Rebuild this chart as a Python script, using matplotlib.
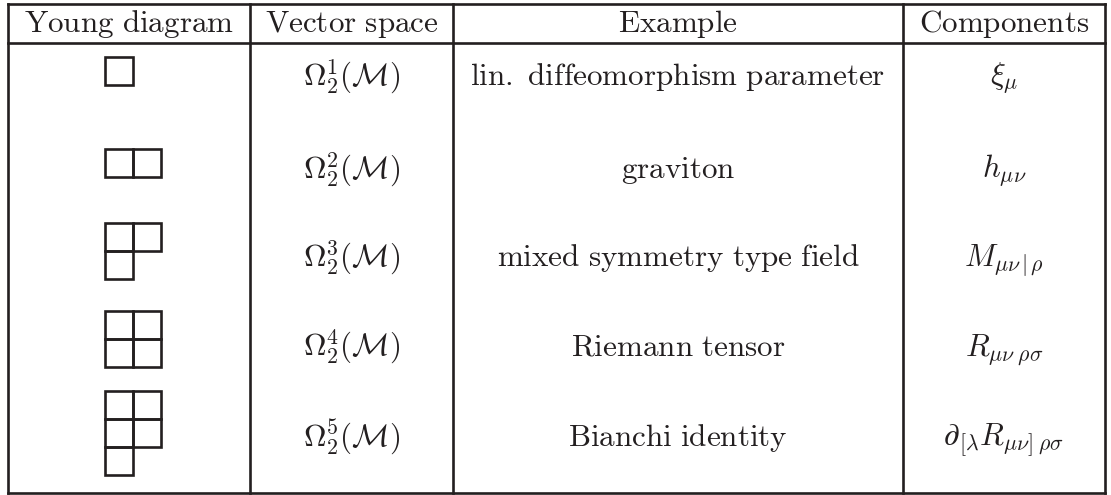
import matplotlib
matplotlib.use('Agg')
import matplotlib.pyplot as plt
from matplotlib.patches import Rectangle

plt.rcParams['mathtext.fontset'] = 'cm'

headers = ['Young diagram', 'Vector space', 'Example', 'Components']
young_rows = [[1], [2], [2, 1], [2, 2], [2, 2, 1]]
vector_spaces = [r'$\Omega_2^{1}(\mathcal{M})$', r'$\Omega_2^{2}(\mathcal{M})$',
                 r'$\Omega_2^{3}(\mathcal{M})$', r'$\Omega_2^{4}(\mathcal{M})$',
                 r'$\Omega_2^{5}(\mathcal{M})$']
examples = ['lin. diffeomorphism parameter', 'graviton', 'mixed symmetry type field',
            'Riemann tensor', 'Bianchi identity']
components = [r'$\xi_\mu$', r'$h_{\mu\nu}$', r'$M_{\mu\nu\,|\,\rho}$',
              r'$R_{\mu\nu\;\rho\sigma}$', r'$\partial_{[\lambda}R_{\mu\nu]\;\rho\sigma}$']

# layout (pixels)
col_edges = [8, 250, 453, 903, 1105]
top, head_line, bottom = 4, 43, 493
head_base = 32
diagram_tops = [57, 149, 223, 311, 391]
text_base = [85, 178, 266, 355, 446]
cell = 28
diag_left = 105
ink = '#231f20'
lw = 1.9
fs = 22.4


def rm(s):
    return r'$\mathrm{' + s.replace(' ', r'\ ') + '}$'


fig = plt.figure(figsize=(11.11, 4.95), dpi=100)
ax = fig.add_axes([0, 0, 1, 1])
ax.set_xlim(0, 1111)
ax.set_ylim(495, 0)
ax.axis('off')

# table lines
for x in col_edges:
    ax.plot([x, x], [top, bottom], color=ink, lw=lw, solid_capstyle='projecting')
for y in [top, head_line, bottom]:
    ax.plot([col_edges[0], col_edges[-1]], [y, y], color=ink, lw=lw, solid_capstyle='projecting')

centers = [(col_edges[i] + col_edges[i + 1]) / 2 for i in range(4)]

for c, h in zip(centers, headers):
    ax.text(c, head_base, rm(h), ha='center', va='baseline', fontsize=fs, color=ink)

for i in range(len(young_rows)):
    # young diagram
    for r, n in enumerate(young_rows[i]):
        for k in range(n):
            ax.add_patch(Rectangle((diag_left + k * cell, diagram_tops[i] + r * cell), cell, cell,
                                   fill=False, edgecolor=ink, lw=lw))
    ax.text(centers[1], text_base[i], vector_spaces[i], ha='center', va='baseline', fontsize=fs, color=ink)
    ax.text(centers[2], text_base[i], rm(examples[i]), ha='center', va='baseline', fontsize=fs, color=ink)
    ax.text(centers[3], text_base[i], components[i], ha='center', va='baseline', fontsize=fs, color=ink)

fig.savefig('out.png', dpi=100, facecolor='white')
